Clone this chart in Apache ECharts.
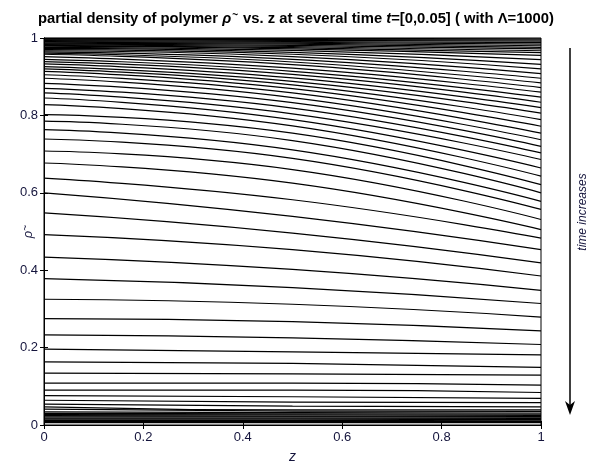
<!DOCTYPE html>
<html>
<head>
<meta charset="utf-8">
<script src="https://cdn.jsdelivr.net/npm/echarts@6/dist/echarts.min.js"></script>
<style>
  html, body { margin: 0; padding: 0; background: #fff; }
  #main { width: 592px; height: 466px; }
</style>
</head>
<body>
<div id="main"></div>
<script>
const zPoints = [0, 0.5, 1];

// rho~ of every profile (bottom -> top, i.e. late -> early time) at z = 0, 0.5, 1
const rhoAtZ0 = [
  0.006, 0.009, 0.012, 0.015, 0.018, 0.021, 0.024, 0.027, 0.030,
  0.034, 0.041, 0.047, 0.054, 0.064, 0.076, 0.090, 0.108, 0.134, 0.163,
  0.196, 0.233, 0.275, 0.325, 0.378, 0.434, 0.492, 0.548, 0.600, 0.638,
  0.677, 0.708, 0.739, 0.763, 0.785, 0.802, 0.828, 0.845, 0.858, 0.870,
  0.883, 0.896, 0.905, 0.914, 0.920, 0.926, 0.933, 0.939, 0.945, 0.952,
  0.958, 0.961, 0.964, 0.967, 0.970, 0.973, 0.976, 0.979, 0.981, 0.983,
  0.985, 0.987, 0.989, 0.991, 0.993, 0.995, 0.997, 0.999
];
const rhoAtZ05 = [
  0.006, 0.009, 0.012, 0.015, 0.018, 0.021, 0.023, 0.026, 0.029,
  0.032, 0.036, 0.039, 0.049, 0.059, 0.073, 0.090, 0.108, 0.132, 0.159,
  0.189, 0.225, 0.267, 0.312, 0.355, 0.402, 0.453, 0.496, 0.539, 0.582,
  0.625, 0.660, 0.689, 0.711, 0.735, 0.754, 0.773, 0.789, 0.804, 0.819,
  0.833, 0.846, 0.858, 0.869, 0.879, 0.888, 0.897, 0.906, 0.914, 0.922,
  0.931, 0.938, 0.945, 0.952, 0.958, 0.963, 0.968, 0.972, 0.975, 0.978,
  0.981, 0.984, 0.987, 0.989, 0.991, 0.994, 0.996, 0.999
];
const rhoAtZ1 = [
  0.006, 0.009, 0.011, 0.014, 0.017, 0.020, 0.022, 0.025, 0.028,
  0.031, 0.035, 0.039, 0.047, 0.058, 0.069, 0.084, 0.103, 0.129, 0.149,
  0.181, 0.208, 0.243, 0.279, 0.314, 0.348, 0.385, 0.419, 0.453, 0.483,
  0.505, 0.531, 0.557, 0.578, 0.600, 0.621, 0.643, 0.664, 0.686, 0.703,
  0.720, 0.737, 0.754, 0.772, 0.789, 0.806, 0.820, 0.834, 0.847, 0.860,
  0.872, 0.884, 0.896, 0.908, 0.920, 0.932, 0.944, 0.955, 0.962, 0.967,
  0.972, 0.976, 0.980, 0.984, 0.988, 0.992, 0.995, 0.998
];

const xTicks = ['0', '0.2', '0.4', '0.6', '0.8', '1'];
const yTicks = ['0', '0.2', '0.4', '0.6', '0.8', '1'];

const font = 'Liberation Sans';
const labelColor = '#14143c';

const profiles = rhoAtZ0.map((v, i) => ({
  type: 'line',
  data: zPoints.map((z, k) => [z, [rhoAtZ0, rhoAtZ05, rhoAtZ1][k][i]]),
  smooth: 0.5,
  showSymbol: false,
  silent: true,
  lineStyle: { color: '#000', width: 1.2 }
}));

const chart = echarts.init(document.getElementById('main'));

const option = {
  animation: false,
  title: {
    text: '{b|partial density of polymer }{bi|ρ}{sup|~}{b| vs. z at several time }{bi|t}{b|=[0,0.05] ( with Λ=1000)}',
    left: 'center',
    top: 5,
    textStyle: {
      rich: {
        b: { fontFamily: font, fontWeight: 'bold', fontSize: 14.8, color: '#000' },
        bi: { fontFamily: font, fontWeight: 'bold', fontStyle: 'italic', fontSize: 14.8, color: '#000' },
        sup: { fontFamily: font, fontWeight: 'bold', fontSize: 10, color: '#000', verticalAlign: 'top', padding: [0, 1, 7, 1] }
      }
    }
  },
  grid: {
    left: 44, right: 51, top: 38, bottom: 41,
    outerBoundsMode: 'none',
    containLabel: false,
    show: true, borderColor: '#000', borderWidth: 1
  },
  xAxis: [{
    type: 'value', min: 0, max: 1, interval: 0.2,
    name: 'z', nameLocation: 'middle', nameGap: 25, nameMoveOverlap: false,
    nameTextStyle: { fontFamily: font, fontStyle: 'italic', fontSize: 14, color: labelColor },
    axisLine: { lineStyle: { color: '#000' } },
    axisTick: { inside: true, length: 4, lineStyle: { color: '#000' } },
    axisLabel: {
      fontFamily: font, fontSize: 13, color: labelColor, margin: 6,
      formatter: v => xTicks[Math.round(v / 0.2)]
    },
    splitLine: { show: false }
  }, {
    type: 'value', min: 0, max: 1, interval: 0.2, position: 'top',
    axisLine: { lineStyle: { color: '#000' } },
    axisTick: { inside: true, length: 4, lineStyle: { color: '#000' } },
    axisLabel: { show: false }, splitLine: { show: false }
  }],
  yAxis: [{
    type: 'value', min: 0, max: 1, interval: 0.2,
    name: '{i|ρ}{s|~}', nameLocation: 'middle', nameGap: 8, nameRotate: 90, nameMoveOverlap: false,
    nameTextStyle: {
      rich: {
        i: { fontFamily: font, fontStyle: 'italic', fontSize: 13, color: labelColor },
        s: { fontFamily: font, fontSize: 10, color: labelColor, verticalAlign: 'top', padding: [0, 0, 5, 0] }
      }
    },
    axisLine: { lineStyle: { color: '#000' } },
    axisTick: { inside: true, length: 4, lineStyle: { color: '#000' } },
    axisLabel: {
      fontFamily: font, fontSize: 13, color: labelColor, margin: 6,
      formatter: v => yTicks[Math.round(v / 0.2)]
    },
    splitLine: { show: false }
  }, {
    type: 'value', min: 0, max: 1, interval: 0.2, position: 'right',
    axisLine: { lineStyle: { color: '#000' } },
    axisTick: { inside: true, length: 4, lineStyle: { color: '#000' } },
    axisLabel: { show: false }, splitLine: { show: false }
  }],
  graphic: [
    { type: 'line', shape: { x1: 570, y1: 48, x2: 570, y2: 406 }, style: { stroke: '#000', lineWidth: 1.5 } },
    { type: 'polygon', shape: { points: [[565, 401], [570, 415], [575, 401], [570, 405]] }, style: { fill: '#000' } },
    {
      type: 'text', x: 583, y: 212, rotation: Math.PI / 2,
      style: {
        text: 'time increases', font: 'italic 12px "Liberation Sans"', fill: labelColor,
        textAlign: 'center', textVerticalAlign: 'middle'
      }
    }
  ],
  series: profiles
};

chart.setOption(option);
</script>
</body>
</html>
